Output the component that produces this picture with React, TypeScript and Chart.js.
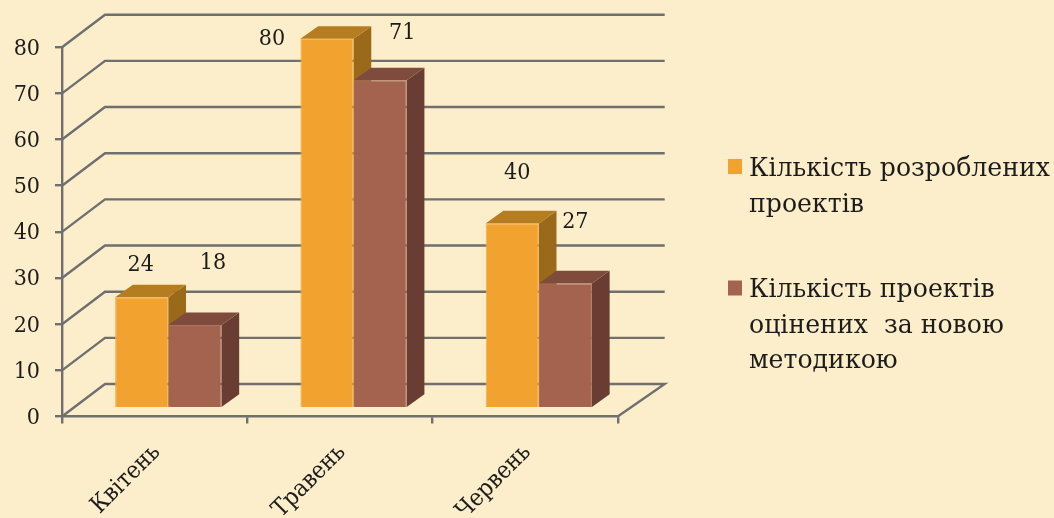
import React, { useEffect, useRef } from "react";
import { Chart, registerables } from "chart.js";

Chart.register(...registerables);

const categories = ["Квітень", "Травень", "Червень"];
const developedProjects = [24, 80, 40];
const assessedProjects = [18, 71, 27];
const seriesNames = ["Кількість розроблених проектів", "Кількість проектів оцінених  за новою методикою"];
const legendLines = [
  ["Кількість розроблених", "проектів"],
  ["Кількість проектів", "оцінених  за новою", "методикою"],
];
const yMax = 80;
const yStep = 10;

const BG = "#fceeca";
const AXIS = "#6f6f6f";
const INK = "#1c1c1c";
const FONT = "'DejaVu Serif Condensed', 'DejaVu Serif', serif";
const LEGEND_FONT = "'DejaVu Serif', serif";
const fronts = ["#f2a22e", "#a4634e"];
const tops = ["#b57c20", "#7e4b3c"];
const sides = ["#9a6a1a", "#693d32"];
const edges = ["#f3ae4c", "#ad7461"];

const WALL = { dx: 43, dy: -32.5 };
const BAR_SHIFT = { dx: 13.7, dy: -8.4 };
const DEPTH = { dx: 17.7, dy: -12.6 };
const LABEL_NUDGE = [
  [[-1, -32], [-55, 0], [5, -50]],
  [[18, -62], [22, -47], [10, -61]],
];

const poly = (ctx: CanvasRenderingContext2D, pts: number[][], fill: string) => {
  ctx.beginPath();
  pts.forEach((p, i) => (i ? ctx.lineTo(p[0], p[1]) : ctx.moveTo(p[0], p[1])));
  ctx.closePath();
  ctx.fillStyle = fill;
  ctx.fill();
};

const scene3d = {
  id: "scene3d",
  beforeDatasetsDraw(chart: any) {
    const { ctx, chartArea: a, scales } = chart;
    ctx.save();
    ctx.strokeStyle = AXIS;
    ctx.lineWidth = 2.4;
    for (let v = 0; v <= yMax; v += yStep) {
      const y = scales.y.getPixelForValue(v);
      ctx.beginPath();
      ctx.moveTo(a.left, y);
      ctx.lineTo(a.left + WALL.dx, y + WALL.dy);
      ctx.lineTo(a.right + WALL.dx + 4, y + WALL.dy);
      if (v === 0) ctx.lineTo(a.right, y);
      ctx.stroke();
    }
    chart.data.datasets.forEach((_: any, d: number) => {
      chart.getDatasetMeta(d).data.forEach((bar: any) => {
        const half = bar.width / 2;
        const l = bar.x - half + BAR_SHIFT.dx;
        const r = bar.x + half + BAR_SHIFT.dx;
        const t = bar.y + BAR_SHIFT.dy;
        const b = bar.base + BAR_SHIFT.dy;
        poly(ctx, [[r, t], [r + DEPTH.dx, t + DEPTH.dy], [r + DEPTH.dx, b + DEPTH.dy], [r, b]], sides[d]);
        poly(ctx, [[l, t], [l + DEPTH.dx, t + DEPTH.dy], [r + DEPTH.dx, t + DEPTH.dy], [r, t]], tops[d]);
      });
    });
    ctx.restore();
    ctx.save();
    ctx.translate(BAR_SHIFT.dx, BAR_SHIFT.dy);
  },
  afterDatasetsDraw(chart: any) {
    const { ctx } = chart;
    ctx.restore();
    ctx.save();
    ctx.fillStyle = INK;
    ctx.font = `23px ${FONT}`;
    ctx.textAlign = "center";
    ctx.textBaseline = "middle";
    chart.data.datasets.forEach((ds: any, d: number) => {
      chart.getDatasetMeta(d).data.forEach((bar: any, i: number) => {
        const [nx, ny] = LABEL_NUDGE[d][i];
        ctx.fillText(String(ds.data[i]), bar.x + BAR_SHIFT.dx + nx, bar.y + BAR_SHIFT.dy + ny);
      });
    });
    ctx.textAlign = "left";
    ctx.textBaseline = "alphabetic";
    ctx.font = `25.2px ${LEGEND_FONT}`;
    const blocks = [
      { box: 159, base: [176, 211.7] },
      { box: 280.5, base: [297, 332.7, 368.3] },
    ];
    blocks.forEach((blk, d) => {
      ctx.fillStyle = fronts[d];
      ctx.fillRect(728, blk.box, 14, 15);
      ctx.fillStyle = INK;
      legendLines[d].forEach((line, i) => ctx.fillText(line, 749, blk.base[i]));
    });
    ctx.restore();
  },
};

export default function App() {
  const ref = useRef<HTMLCanvasElement>(null);
  useEffect(() => {
    const chart = new Chart(ref.current!, {
      type: "bar",
      data: {
        labels: categories,
        datasets: [developedProjects, assessedProjects].map((data, d) => ({
          label: seriesNames[d],
          data,
          backgroundColor: fronts[d],
          borderColor: edges[d],
          borderWidth: 1,
          clip: false as any,
          categoryPercentage: 0.574,
          barPercentage: 1,
        })),
      },
      options: {
        animation: false,
        responsive: false,
        layout: { padding: { top: 47.2, right: 436.3, left: 0, bottom: 0 } },
        plugins: { legend: { display: false }, tooltip: { enabled: false } },
        scales: {
          x: {
            afterFit: (s: any) => { s.height = 101.5; },
            grid: { drawOnChartArea: false, color: AXIS, lineWidth: 2.4, tickLength: 7 },
            border: { color: AXIS, width: 2.4 },
            ticks: { color: INK, font: { family: FONT, size: 24 }, minRotation: 45, maxRotation: 45, padding: 15, labelOffset: 2, autoSkip: false },
          },
          y: {
            min: 0,
            max: yMax,
            afterFit: (s: any) => { s.width = 62; },
            grid: { drawOnChartArea: false, color: AXIS, lineWidth: 2.4, tickLength: 7 },
            border: { color: AXIS, width: 2.4 },
            ticks: { stepSize: yStep, color: INK, font: { family: FONT, size: 23 }, padding: 15, labelOffset: 1.5 },
          },
        },
      },
      plugins: [scene3d],
    } as any);
    return () => chart.destroy();
  }, []);
  return (
    <div style={{ position: "fixed", inset: 0, background: BG }}>
      <canvas ref={ref} width={1054} height={518} style={{ display: "block" }} />
    </div>
  );
}
